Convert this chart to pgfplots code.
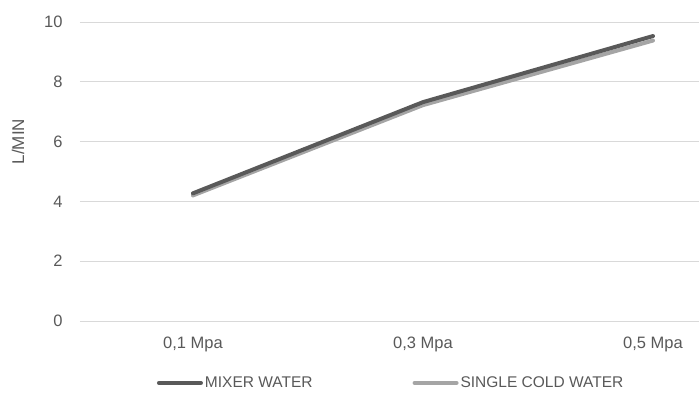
\documentclass[border=0pt]{standalone}
\usepackage{fontspec}
\setmainfont{Liberation Sans}
\usepackage{pgfplots}
\pgfplotsset{compat=1.18}
\definecolor{txt}{HTML}{595959}
\definecolor{gridc}{HTML}{D9D9D9}
\definecolor{mix}{HTML}{595959}
\definecolor{single}{HTML}{A5A5A5}
\begin{document}
\begin{tikzpicture}
\begin{axis}[
  anchor=south west,
  at={(0pt,0pt)},
  scale only axis,
  width=619pt, height=299pt,
  xmin=-0.491, xmax=2.2,
  ymin=0, ymax=10,
  ytick={0,2,...,10},
  xtick={0,1,2},
  xticklabels={{0,1 Mpa},{0,3 Mpa},{0,5 Mpa}},
  axis line style={draw=none},
  major tick length=0pt,
  xmajorgrids=false,
  ymajorgrids=true,
  major grid style={draw=gridc, line width=1pt},
  tick label style={font=\fontsize{16.5}{19}\selectfont, text=txt},
  /pgf/number format/assume math mode=true,
  yticklabel style={xshift=-14pt},
  xticklabel style={yshift=-12pt},
  ylabel={L/MIN},
  ylabel style={font=\fontsize{17}{20}\selectfont, text=txt, at={(axis description cs:-0.1,0.6)}, rotate=0, anchor=center},
  legend columns=2,
  legend style={draw=none, at={(axis description cs:0.124,-0.207)}, anchor=west,
    font=\fontsize{15.5}{18}\selectfont, text=txt,
    /tikz/every even column/.append style={column sep=98pt},
    inner sep=0pt},
  legend image code/.code={\draw[#1, line cap=round] (0pt,0pt) -- (42pt,0pt);},
]
\addplot[single, line width=4pt, line cap=round, forget plot] coordinates {(0,4.2) (1,7.22) (2,9.38)};
\addplot[mix, line width=4pt, line cap=round] coordinates {(0,4.27) (1,7.32) (2,9.53)};
\addlegendentry{MIXER WATER}
\addlegendimage{single, line width=4pt}
\addlegendentry{SINGLE COLD WATER}
\end{axis}
\pgfresetboundingbox
\useasboundingbox (-80pt,-79pt) rectangle (619pt,321pt);
\end{tikzpicture}
\end{document}
